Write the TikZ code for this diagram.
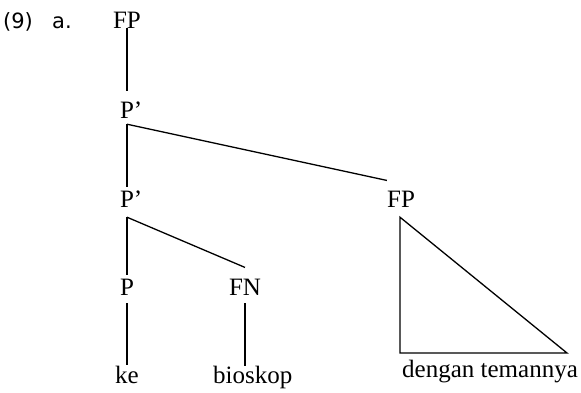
\documentclass[tikz,border=0pt]{standalone}
\usepackage{fontspec}
\setmainfont{Liberation Serif}
\newfontfamily\numfont{DejaVu Sans}

\begin{document}
\begin{tikzpicture}[x=1pt, y=-1pt,
  cat/.style={inner sep=0pt, anchor=base, font=\fontsize{25}{28}\selectfont},
  word/.style={inner sep=0pt, anchor=base west, font=\fontsize{25}{28}\selectfont},
  branch/.style={line width=1.3pt}]
\useasboundingbox (0,0) rectangle (581,392);

% Example number
\node[inner sep=0pt, anchor=base west, font=\numfont\fontsize{21}{24}\selectfont] (num) at (3,28) {(9)};
\node[inner sep=0pt, anchor=base west, font=\numfont\fontsize{21}{24}\selectfont] (sub) at (52,28) {a.};

% Categories
\node[cat] (fpa) at (127,28) {FP};
\node[cat] (pa) at (127,118) {P\rlap{’}};
\node[cat] (pb) at (127,207) {P\rlap{’}};
\node[cat] (fpb) at (401,207) {FP};
\node[cat] (pc) at (127,295) {P};
\node[cat] (fn) at (245,295) {FN};

% Words
\node[cat] (ke) at (127,383) {ke};
\node[word] (bio) at (213,383) {bioskop};
\node[word] (dt) at (402,377) {dengan temannya};

% Triangle corners
\coordinate (tl) at (400,353);
\coordinate (tr) at (567,353);

% Branches
\draw[branch] (fpa.south) -- ([yshift=10pt]pa.north);
\draw[branch] ([yshift=-6pt]pa.south) -- ([yshift=3pt]pb.north);
\draw[branch] ([yshift=-6pt]pa.south) -- ([yshift=10pt]fpb.north west);
\draw[branch] ([yshift=-10pt]pb.south) -- ([yshift=3pt]pc.north);
\draw[branch] ([yshift=-10pt]pb.south) -- ([yshift=11pt]fn.north);
\draw[branch] ([yshift=-8pt]pc.south) -- (ke.north);
\draw[branch] ([yshift=-8pt]fn.south) -- ([yshift=-1pt]fn.south |- bio.north);

% Roof over FP
\draw[branch] ([xshift=-1pt,yshift=-10pt]fpb.south) -- (tl) -- (tr) -- cycle;

\end{tikzpicture}
\end{document}
